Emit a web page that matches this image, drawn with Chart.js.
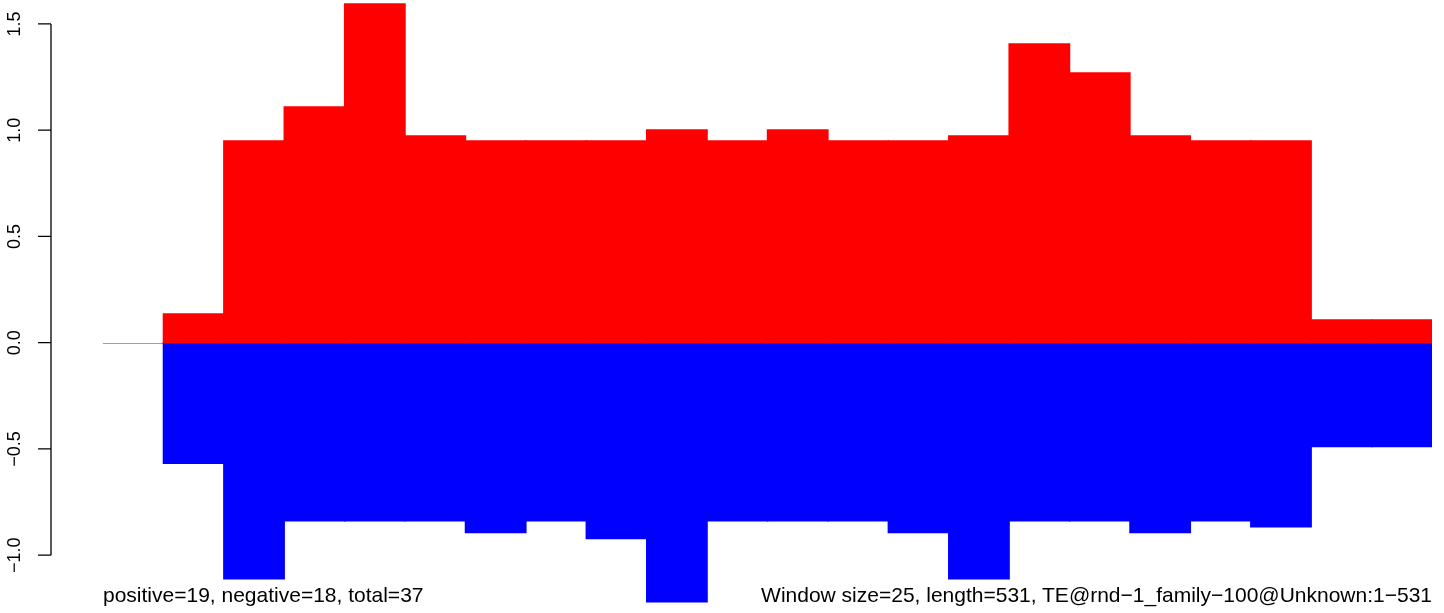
<!DOCTYPE html>
<html>
<head>
<meta charset="utf-8">
<script src="https://cdn.jsdelivr.net/npm/chart.js@4/dist/chart.umd.min.js"></script>
<style>
  body { margin: 0; background: #fff; }
  #wrap { position: relative; width: 1444px; height: 613px; }
  .cap { position: absolute; top: 584px; font: 21px "Liberation Sans", Arial, sans-serif; line-height: 1; color: #000; white-space: nowrap; }
</style>
</head>
<body>
<div id="wrap">
  <canvas id="grafico" width="1444" height="613"></canvas>
  <div class="cap" id="izq" style="left:103px">positive=19, negative=18, total=37</div>
  <div class="cap" id="der" style="right:12px">Window size=25, length=531, TE@rnd−1_family−100@Unknown:1−531</div>
</div>
<script>
// ventanas (la primera posicion queda vacia)
const ventanas = ['', '1', '2', '3', '4', '5', '6', '7', '8', '9', '10', '11',
                  '12', '13', '14', '15', '16', '17', '18', '19', '20', '21'];
const positivos = [null, 0.135, 0.949, 1.109, 1.594, 0.973, 0.949, 0.949, 0.949, 1.001, 0.949,
                   1.001, 0.949, 0.949, 0.973, 1.406, 1.269, 0.973, 0.949, 0.949, 0.107, 0.107];
const negativos = [null, -0.568, -1.111, -0.838, -0.838, -0.838, -0.894, -0.838, -0.922, -1.219, -0.838,
                   -0.838, -0.838, -0.894, -1.111, -0.838, -0.838, -0.894, -0.838, -0.866, -0.489, -0.489];
const marcasY = [-1.0, -0.5, 0.0, 0.5, 1.0, 1.5];

// eje estilo R: linea, marcas y etiquetas giradas
const ejeR = {
  id: 'ejeR',
  beforeDatasetsDraw(chart) {
    const { ctx, chartArea, scales } = chart;
    const y0 = Math.round(scales.y.getPixelForValue(0)) + 0.5;
    ctx.save();
    ctx.strokeStyle = '#a0a0a0';
    ctx.lineWidth = 1;
    ctx.beginPath();
    ctx.moveTo(chartArea.left, y0);
    ctx.lineTo(chartArea.right, y0);
    ctx.stroke();
    ctx.restore();
  },
  afterDraw(chart) {
    const { ctx, scales } = chart;
    const y = scales.y;
    const xEje = 51;
    ctx.save();
    ctx.strokeStyle = '#000';
    ctx.lineWidth = 1.3;
    ctx.beginPath();
    ctx.moveTo(xEje, y.getPixelForValue(marcasY[0]));
    ctx.lineTo(xEje, y.getPixelForValue(marcasY[marcasY.length - 1]));
    marcasY.forEach(v => {
      const py = y.getPixelForValue(v);
      ctx.moveTo(xEje, py);
      ctx.lineTo(38, py);
    });
    ctx.stroke();
    ctx.fillStyle = '#000';
    ctx.font = '18px "Liberation Sans", Arial, sans-serif';
    ctx.textAlign = 'center';
    ctx.textBaseline = 'alphabetic';
    marcasY.forEach(v => {
      const py = y.getPixelForValue(v);
      ctx.save();
      ctx.translate(20, py);
      ctx.rotate(-Math.PI / 2);
      ctx.fillText(v.toFixed(1).replace('-', '\u2212'), 0, 0);
      ctx.restore();
    });
    ctx.restore();
  }
};

new Chart(document.getElementById('grafico'), {
  type: 'bar',
  data: {
    labels: ventanas,
    datasets: [
      { label: 'positive', data: positivos, backgroundColor: '#ff0000', borderWidth: 0, inflateAmount: 0.7 },
      { label: 'negative', data: negativos, backgroundColor: '#0000ff', borderWidth: 0, inflateAmount: 0.7 }
    ]
  },
  options: {
    responsive: false,
    animation: false,
    layout: { padding: { left: 103, right: 12, top: 0, bottom: 0 } },
    datasets: { bar: { barPercentage: 1, categoryPercentage: 1 } },
    plugins: { legend: { display: false }, tooltip: { enabled: false } },
    scales: {
      x: { stacked: true, display: false },
      y: { stacked: true, display: false, min: -1.272, max: 1.6127 }
    }
  },
  plugins: [ejeR]
});
</script>
</body>
</html>
